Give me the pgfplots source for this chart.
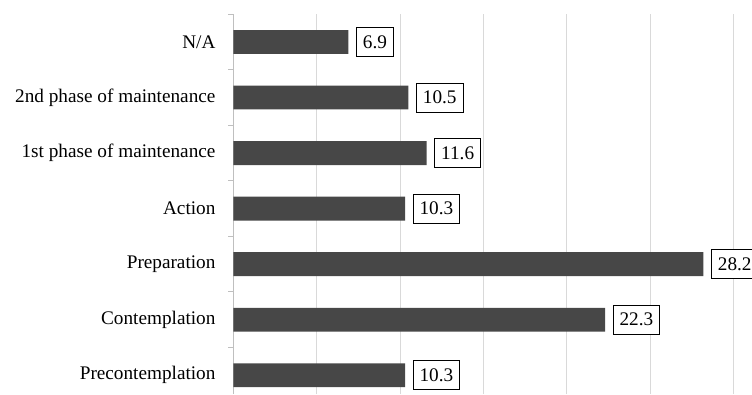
\documentclass[border=0pt]{standalone}
\usepackage{fontspec}
\setmainfont{Liberation Serif}
\usepackage{pgfplots}
\pgfplotsset{compat=1.18}
\definecolor{barc}{HTML}{474747}
\definecolor{gridc}{HTML}{D9D9D9}
\definecolor{axc}{HTML}{BFBFBF}
\begin{document}
\begin{tikzpicture}
\begin{axis}[name=ax,
  xbar, scale only axis, width=500bp, height=380bp,
  xmin=0, xmax=30, ymin=-0.342, ymax=6.5,
  bar width=0.43,
  axis lines*=left,
  x axis line style={draw=none},
  y axis line style={draw=axc, line width=0.9bp},
  xtick={5,10,...,30}, xticklabels={},
  major x tick style={draw=none},
  xmajorgrids, grid style={draw=gridc, line width=0.9bp},
  ytick={0,...,6},
  yticklabels={Precontemplation,Contemplation,Preparation,Action,1st phase of maintenance,2nd phase of maintenance,N/A},
  major y tick style={draw=none},
  minor ytick={-0.5,0.5,...,6.5},
  minor y tick style={draw=axc, line width=0.9bp},
  minor tick length=5bp,
  tick align=outside,
  ytick pos=left,
  yticklabel style={font=\fontsize{19.3}{22}\selectfont, anchor=east, inner sep=0pt, xshift=-13.5bp},
  point meta=explicit symbolic,
  nodes near coords,
  nodes near coords style={draw=black, line width=1bp, fill=white, inner xsep=6.5bp, inner ysep=0pt, minimum height=29bp, anchor=west, xshift=7.5bp, font=\fontsize{19.3}{22}\selectfont},
  clip=false,
]
\addplot[fill=barc, draw=none] coordinates {
  (10.3,0) [10.3]
  (22.3,1) [22.3]
  (28.2,2) [28.2]
  (10.3,3) [10.3]
  (11.6,4) [11.6]
  (10.5,5) [10.5]
  (6.9,6) [6.9]
};
\end{axis}
\pgfresetboundingbox
\path[use as bounding box] ([xshift=-233.4bp]ax.south west) rectangle ([xshift=18.6bp,yshift=14.25bp]ax.north east);
\end{tikzpicture}
\end{document}
